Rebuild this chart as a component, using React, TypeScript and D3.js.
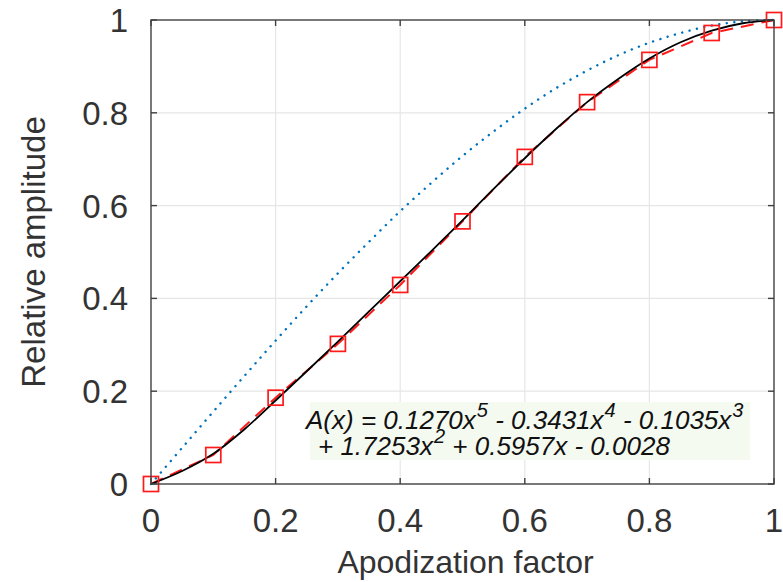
import React from 'react'
import * as d3 from 'd3'

// sampled points (red squares, joined by the dashed line)
const sampleX = [0, 0.1, 0.2, 0.3, 0.4, 0.5, 0.6, 0.7, 0.8, 0.9, 1]
const sampleY = [0, 0.0625, 0.186, 0.302, 0.429, 0.566, 0.705, 0.823, 0.914, 0.972, 1]

// fitted curve (black solid)
const fitX = [0, 0.05, 0.1, 0.15, 0.2, 0.25, 0.3, 0.35, 0.4, 0.45, 0.5, 0.55, 0.6, 0.65, 0.7, 0.75, 0.8, 0.85, 0.9, 0.95, 1]
const fitY = [0, 0.028, 0.065, 0.118, 0.18, 0.243, 0.307, 0.372, 0.437, 0.502, 0.568, 0.636, 0.702, 0.765, 0.823, 0.873, 0.917, 0.952, 0.977, 0.993, 1]

// reference curve (blue dotted), same x as the fit
const refY = [0, 0.078, 0.156, 0.233, 0.309, 0.383, 0.454, 0.522, 0.588, 0.649, 0.707, 0.76, 0.809, 0.853, 0.891, 0.924, 0.951, 0.972, 0.988, 0.997, 1]

const xTicks = [0, 0.2, 0.4, 0.6, 0.8, 1]
const yTicks = [0, 0.2, 0.4, 0.6, 0.8, 1]

const margin = { left: 151, right: 9, top: 20, bottom: 98 }
const width = 783
const height = 582
const font = 'Liberation Sans, Arial, Helvetica, sans-serif'
const axisColor = '#404040'
const textColor = '#333'

export default function App() {
  const x = d3.scaleLinear().domain([0, 1]).range([margin.left, width - margin.right])
  const y = d3.scaleLinear().domain([0, 1]).range([height - margin.bottom, margin.top])

  const [x0, x1] = x.range()
  const [y0, y1] = y.range()

  const straight = d3
    .line<number>()
    .x((d, i) => x(sampleX[i]))
    .y(d => y(d))

  const smooth = d3
    .line<number>()
    .x((d, i) => x(fitX[i]))
    .y(d => y(d))
    .curve(d3.curveCatmullRom)

  const sq = 15
  const fmt = d3.format('~g')

  return (
    <svg
      width={width}
      height={height}
      style={{ position: 'absolute', left: 0, top: 0, background: '#fff' }}
      fontFamily={font}
    >
      {/* grid */}
      <g stroke="#e6e6e6" strokeWidth={1.2}>
        {xTicks.slice(1, -1).map(t => (
          <line key={'gx' + t} x1={x(t)} x2={x(t)} y1={y0} y2={y1} />
        ))}
        {yTicks.slice(1, -1).map(t => (
          <line key={'gy' + t} x1={x0} x2={x1} y1={y(t)} y2={y(t)} />
        ))}
      </g>

      {/* equation box */}
      <rect x={310} y={402} width={440} height={58} fill="#f5faf1" />
      <text x={306} y={429} fontSize={26} fontStyle="italic" fill="#111">
        A(x) = 0.1270x<tspan dx={1} dy={-12} fontSize={20}>5</tspan>
        <tspan dy={12}> - 0.3431x</tspan>
        <tspan dx={1} dy={-12} fontSize={20}>4</tspan>
        <tspan dy={12}> - 0.1035x</tspan>
        <tspan dx={1} dy={-12} fontSize={20}>3</tspan>
      </text>
      <text x={318} y={455} fontSize={26} fontStyle="italic" fill="#111">
        + 1.7253x<tspan dx={1} dy={-12} fontSize={20}>2</tspan>
        <tspan dy={12}> + 0.5957x - 0.0028</tspan>
      </text>

      {/* curves */}
      <path
        d={smooth(refY) || ''}
        fill="none"
        stroke="#0072bd"
        strokeWidth={2.4}
        strokeDasharray="0.1 7.5"
        strokeLinecap="round"
      />
      <path d={straight(sampleY) || ''} fill="none" stroke="#ff1a1a" strokeWidth={2} strokeDasharray="13 8" />
      <path d={smooth(fitY) || ''} fill="none" stroke="#000" strokeWidth={1.8} />
      {sampleY.map((v, i) => (
        <rect
          key={'p' + i}
          x={x(sampleX[i]) - sq / 2}
          y={y(v) - sq / 2}
          width={sq}
          height={sq}
          fill="none"
          stroke="#ff1a1a"
          strokeWidth={1.7}
        />
      ))}

      {/* box + ticks */}
      <rect x={x0} y={y1} width={x1 - x0} height={y0 - y1} fill="none" stroke={axisColor} strokeWidth={1.4} />
      <g stroke={axisColor} strokeWidth={1.4}>
        {xTicks.map(t => (
          <g key={'tx' + t}>
            <line x1={x(t)} x2={x(t)} y1={y0} y2={y0 - 6} />
            <line x1={x(t)} x2={x(t)} y1={y1} y2={y1 + 6} />
          </g>
        ))}
        {yTicks.map(t => (
          <g key={'ty' + t}>
            <line x1={x0} x2={x0 + 6} y1={y(t)} y2={y(t)} />
            <line x1={x1} x2={x1 - 6} y1={y(t)} y2={y(t)} />
          </g>
        ))}
      </g>

      {/* tick labels */}
      <g fontSize={33} fill={textColor}>
        {xTicks.map(t => (
          <text key={'lx' + t} x={x(t)} y={532} textAnchor="middle">
            {fmt(t)}
          </text>
        ))}
        {yTicks.map(t => (
          <text key={'ly' + t} x={128} y={y(t) + 12} textAnchor="end">
            {fmt(t)}
          </text>
        ))}
      </g>

      {/* axis titles */}
      <text x={(x0 + x1) / 2 + 3} y={573} fontSize={32} fill={textColor} textAnchor="middle">
        Apodization factor
      </text>
      <text
        transform={`translate(45,${(y0 + y1) / 2}) rotate(-90)`}
        fontSize={33}
        fill={textColor}
        textAnchor="middle"
      >
        Relative amplitude
      </text>
    </svg>
  )
}
